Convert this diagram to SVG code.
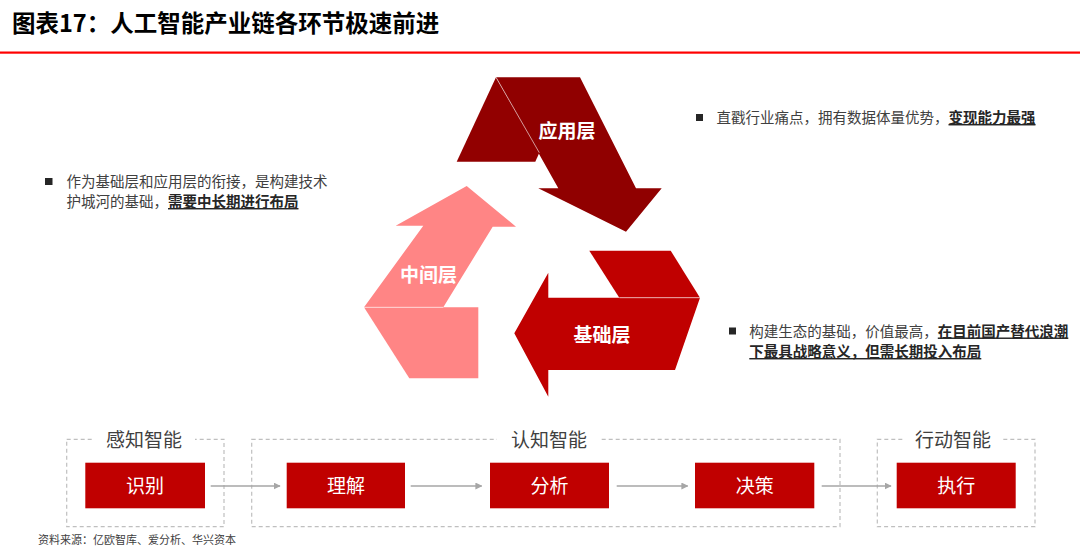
<svg xmlns="http://www.w3.org/2000/svg" width="1080" height="551" viewBox="0 0 1080 551">
<defs>
<style>
text{font-family:"Noto Sans CJK SC","Liberation Sans",sans-serif;}
.title{font-size:23.5px;font-weight:bold;fill:#000;}
.desc{font-size:14.5px;fill:#404040;}
.em{font-weight:bold;fill:#262626;text-decoration:underline;}
.lbl{font-size:19px;font-weight:bold;fill:#fff;text-anchor:middle;}
.grp{font-size:19px;fill:#404040;text-anchor:middle;}
.node rect{fill:#C00000;}
.node text{font-size:19px;fill:#fff;text-anchor:middle;}
.dash{fill:none;stroke:#BFBFBF;stroke-width:1.2;stroke-dasharray:4 3;}
.conn{stroke:#A6A6A6;stroke-width:1.5;fill:none;marker-end:url(#ah);}
.fold{stroke:#fff;stroke-opacity:0.6;stroke-width:1;}
</style>
<marker id="ah" viewBox="0 0 10 10" refX="9" refY="5" markerWidth="7" markerHeight="7" markerUnits="userSpaceOnUse" orient="auto">
<path d="M0,0 L10,5 L0,10 z" fill="#A6A6A6"/>
</marker>
</defs>
<rect width="1080" height="551" fill="#fff"/>
<text class="title" x="12" y="31.5">图表17：人工智能产业链各环节极速前进</text>
<rect x="0" y="51.5" width="1080" height="2.2" fill="#FF0000"/>

<g id="app-layer">
<polygon points="496,77.3 539.3,152.7 535.3,161.7 456.7,161.7" fill="#920000"/>
<polygon points="496,77.3 580,77.3 636,188.3 661.7,188.3 626,231.7 538.3,188.3 558.3,188.3" fill="#900000"/>
<line class="fold" x1="496" y1="77.3" x2="539.3" y2="152.7"/>
<text class="lbl" x="567" y="138">应用层</text>
</g>
<g id="mid-layer">
<polygon points="364,307.3 478.3,307.3 478.3,378.3 409.3,378.3" fill="#FF8585"/>
<polygon points="364,307.3 423.3,225.7 395.7,225.7 466.7,186 516,226.7 492.7,226.7 443.3,307.3" fill="#FF8585"/>
<line class="fold" x1="364" y1="307.3" x2="443.3" y2="307.3"/>
<text class="lbl" x="428.5" y="281.5">中间层</text>
</g>
<g id="base-layer">
<polygon points="589.3,250.7 670.7,250.7 700,297.7 619.3,297.7" fill="#C00000"/>
<polygon points="548.3,297.7 700,297.7 675,370 548.3,370 548.3,396.7 514.3,333.3 548.3,272.7" fill="#C00000"/>
<line class="fold" x1="619.3" y1="297.7" x2="700" y2="297.7"/>
<text class="lbl" x="602" y="341.5">基础层</text>
</g>

<g id="desc-app">
<rect x="696" y="114" width="7" height="7" fill="#262626"/>
<text class="desc" x="716.5" y="123">直戳行业痛点，拥有数据体量优势，<tspan class="em">变现能力最强</tspan></text>
</g>
<g id="desc-mid">
<rect x="45" y="178" width="7.5" height="7" fill="#262626"/>
<text class="desc" x="66.5" y="187">作为基础层和应用层的衔接，是构建技术</text>
<text class="desc" x="66.5" y="207">护城河的基础，<tspan class="em">需要中长期进行布局</tspan></text>
</g>
<g id="desc-base">
<rect x="729" y="327.5" width="7" height="7" fill="#262626"/>
<text class="desc" x="749.3" y="336.5">构建生态的基础，价值最高，<tspan class="em">在目前国产替代浪潮</tspan></text>
<text class="desc" x="749.3" y="357"><tspan class="em">下最具战略意义，但需长期投入布局</tspan></text>
</g>

<g id="group-perception">
<rect class="dash" x="66.7" y="439.3" width="157.3" height="87.4"/>
<rect x="93" y="430" width="102" height="20" fill="#fff"/>
<text class="grp" x="144" y="447">感知智能</text>
</g>
<g id="group-cognition">
<rect class="dash" x="251.7" y="439.3" width="588.3" height="87.4"/>
<rect x="497" y="430" width="104" height="20" fill="#fff"/>
<text class="grp" x="549" y="447">认知智能</text>
</g>
<g id="group-action">
<rect class="dash" x="877.3" y="439.3" width="157.7" height="87.4"/>
<rect x="904" y="430" width="98" height="20" fill="#fff"/>
<text class="grp" x="953" y="447">行动智能</text>
</g>

<g id="connectors">
<line class="conn" x1="210.7" y1="486" x2="280" y2="486"/>
<line class="conn" x1="410.7" y1="486" x2="481.7" y2="486"/>
<line class="conn" x1="616.7" y1="486" x2="687.7" y2="486"/>
<line class="conn" x1="821.7" y1="486" x2="891" y2="486"/>
</g>

<g id="node-recognize" class="node"><rect x="85.3" y="462.7" width="119.7" height="45.6"/><text x="145" y="492.5">识别</text></g>
<g id="node-understand" class="node"><rect x="286.7" y="462.7" width="118.3" height="45.6"/><text x="346" y="492.5">理解</text></g>
<g id="node-analyze" class="node"><rect x="490" y="462.7" width="119" height="45.6"/><text x="549.5" y="492.5">分析</text></g>
<g id="node-decide" class="node"><rect x="695" y="462.7" width="119.3" height="45.6"/><text x="754.7" y="492.5">决策</text></g>
<g id="node-execute" class="node"><rect x="896.7" y="462.7" width="119" height="45.6"/><text x="956.2" y="492.5">执行</text></g>

<text x="38" y="543.5" style="font-size:11px;fill:#404040;">资料来源：亿欧智库、爱分析、华兴资本</text>
</svg>
